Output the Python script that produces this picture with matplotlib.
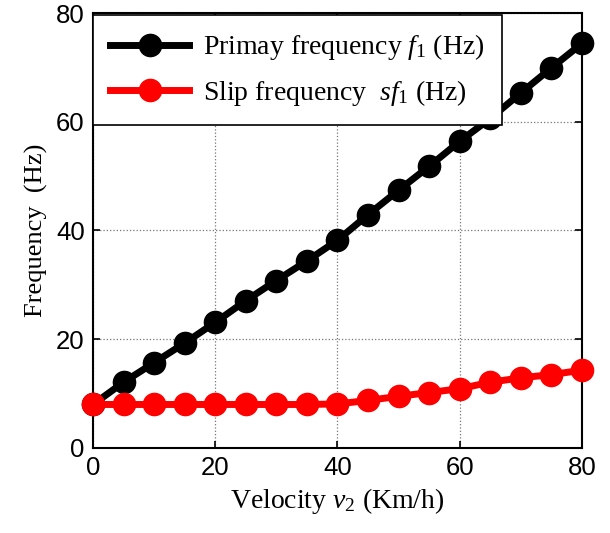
import matplotlib
matplotlib.use("Agg")
import matplotlib.pyplot as plt

velocity = [0, 5, 10, 15, 20, 25, 30, 35, 40, 45, 50, 55, 60, 65, 70, 75, 80]
primary_freq = [8.0, 12.1, 15.7, 19.3, 23.1, 27.1, 30.8, 34.4, 38.2, 42.9, 47.4, 51.8, 56.4, 60.6, 65.3, 69.9, 74.4]
slip_freq = [8.0, 8.0, 8.0, 8.0, 8.0, 8.0, 8.0, 8.0, 8.1, 8.75, 9.5, 10.2, 10.9, 12.1, 12.9, 13.5, 14.3]
ticks = [0, 20, 40, 60, 80]
labels = ["Primay frequency $f_1$ (Hz)", "Slip frequency  $sf_1$ (Hz)"]

plt.rcParams['mathtext.fontset'] = 'custom'
plt.rcParams['mathtext.rm'] = 'Liberation Serif'
plt.rcParams['mathtext.it'] = 'Liberation Serif:italic'

fig = plt.figure(figsize=(6.1, 5.33), dpi=100)
ax = fig.add_axes([0.1525, 0.1595, 0.954 - 0.1525, 0.9756 - 0.1595])

ax.plot(velocity, primary_freq, color='black', lw=5, marker='o', ms=16,
        clip_on=False, zorder=3, label=labels[0])
ax.plot(velocity, slip_freq, color='red', lw=5, marker='o', ms=16,
        clip_on=False, zorder=4, label=labels[1])

ax.set_xlim(0, 80)
ax.set_ylim(0, 80)
ax.set_xticks(ticks)
ax.set_yticks(ticks)
ax.grid(True, color='#777777', linestyle=':', linewidth=0.9)
ax.tick_params(direction='in', top=True, right=True, length=5, width=1.2,
               labelsize=18.5, pad=6)
for lab in ax.get_xticklabels() + ax.get_yticklabels():
    lab.set_family('Liberation Sans')
for sp in ax.spines.values():
    sp.set_linewidth(1.5)

ax.set_xlabel("Velocity $v_2$ (Km/h)", family='Liberation Serif', fontsize=20, labelpad=4)
ax.set_ylabel("Frequency  (Hz)", family='Liberation Serif', fontsize=19, labelpad=6)

leg = ax.legend(loc='upper left', bbox_to_anchor=(0, 0.995), borderaxespad=0,
                prop={'family': 'Liberation Serif', 'size': 20},
                handlelength=2.85, handletextpad=0.5, fancybox=False, framealpha=1,
                edgecolor='black', markerscale=1.0, borderpad=0.62,
                labelspacing=0.56)
leg.get_frame().set_linewidth(1.2)
leg.set_zorder(10)

fig.savefig("out.png", dpi=100)
